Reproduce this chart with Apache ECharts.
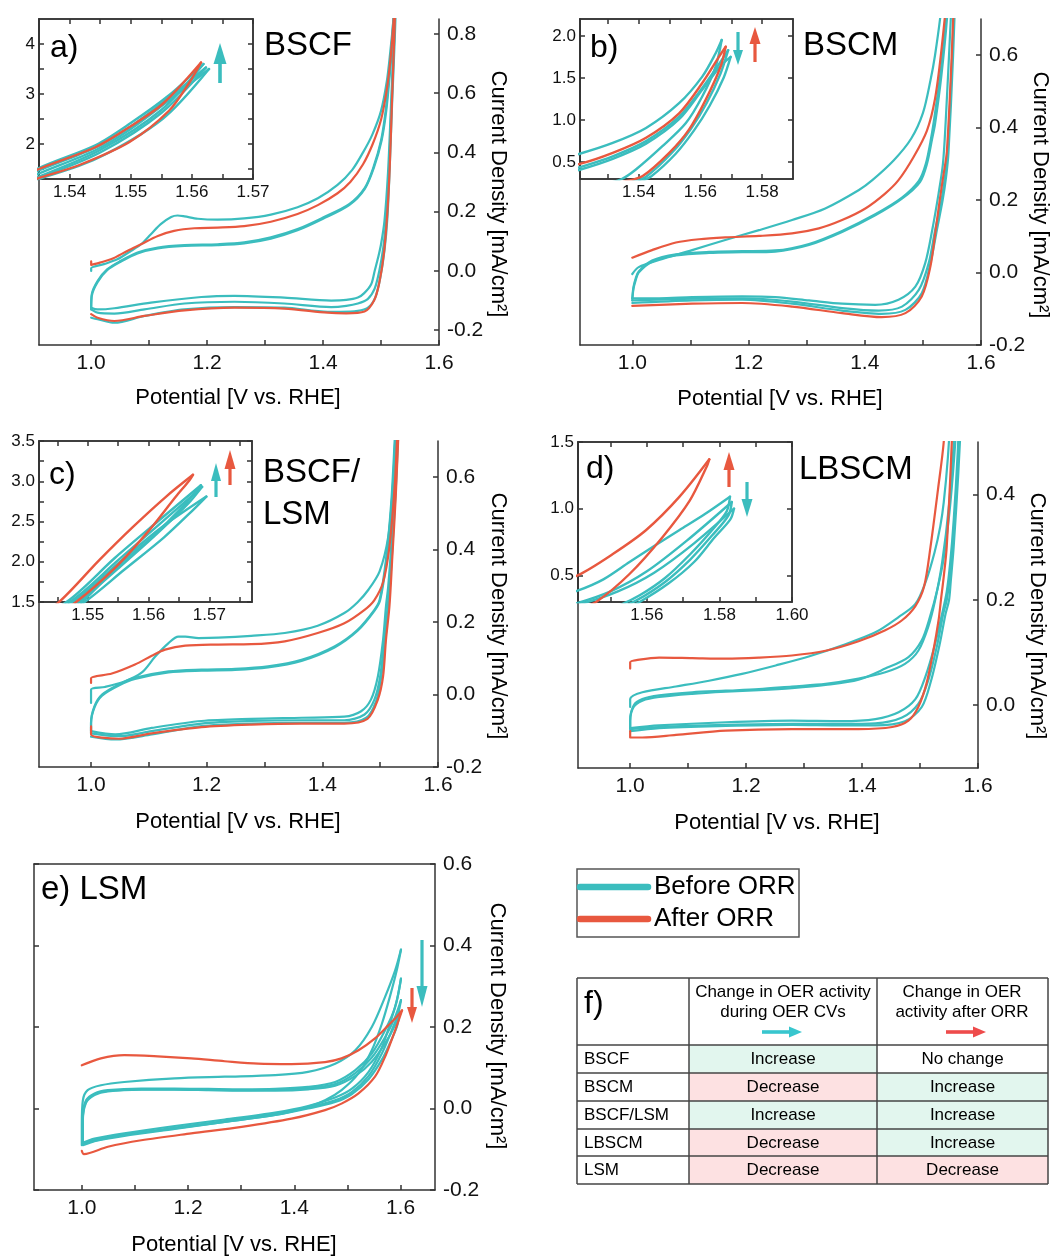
<!DOCTYPE html>
<html><head><meta charset="utf-8">
<script src="https://cdn.jsdelivr.net/npm/echarts@6/dist/echarts.min.js"></script>
<style>html,body{margin:0;padding:0;background:#fff}#c{width:1059px;height:1258px}</style>
</head><body><div id="c"></div>
<script>
const TEAL = '#3BBDBE', RED = '#E8583F';
const FONT = '"Liberation Sans", Arial, Helvetica, sans-serif';
const AX = '#333333';

// ---------- tick / label values ----------
const mainXTicks = [1.0, 1.1, 1.2, 1.3, 1.4, 1.5, 1.6];
const mainXLabels = [1.0, 1.2, 1.4, 1.6];
const aYLabels = [-0.2, 0.0, 0.2, 0.4, 0.6, 0.8];
const bYLabels = [-0.2, 0.0, 0.2, 0.4, 0.6];
const cYLabels = [-0.2, 0.0, 0.2, 0.4, 0.6];
const dYLabels = [0.0, 0.2, 0.4];
const eYLabels = [-0.2, 0.0, 0.2, 0.4, 0.6];
const aInsetXLabels = [1.54, 1.55, 1.56, 1.57];
const aInsetXTicks = [1.54, 1.545, 1.55, 1.555, 1.56, 1.565, 1.57];
const aInsetYLabels = [2, 3, 4];
const aInsetYTicks = [1.5, 2, 2.5, 3, 3.5, 4];
const bInsetXLabels = [1.54, 1.56, 1.58];
const bInsetXTicks = [1.53, 1.54, 1.55, 1.56, 1.57, 1.58];
const bInsetYLabels = [0.5, 1.0, 1.5, 2.0];
const cInsetXLabels = [1.55, 1.56, 1.57];
const cInsetXTicks = [1.545, 1.55, 1.555, 1.56, 1.565, 1.57, 1.575];
const cInsetYLabels = [1.5, 2.0, 2.5, 3.0, 3.5];
const cInsetYTicks = [1.5, 1.75, 2.0, 2.25, 2.5, 2.75, 3.0, 3.25, 3.5];
const dInsetXLabels = [1.56, 1.58, 1.60];
const dInsetXTicks = [1.55, 1.56, 1.57, 1.58, 1.59, 1.60];
const dInsetYLabels = [0.5, 1.0, 1.5];

// ---------- a) BSCF : [potential V vs RHE, current density mA/cm2] ----------
const aTeal1 = [[1.0,0.0],[1.0,0.009],[1.022,0.023],[1.045,0.039],[1.069,0.068],[1.086,0.09],[1.103,0.124],[1.12,0.158],[1.138,0.182],[1.149,0.187],[1.161,0.184],[1.184,0.176],[1.218,0.173],[1.264,0.177],[1.31,0.19],[1.356,0.215],[1.391,0.245],[1.425,0.29],[1.45,0.34],[1.469,0.40],[1.485,0.46],[1.5,0.54],[1.51,0.64],[1.516,0.74],[1.521,0.84],[1.528,1.03],[1.535,1.30],[1.5443,1.7],[1.5552,2.5],[1.5628,3.50],
  [1.556,2.85],[1.55,2.3],[1.5443,1.88],[1.535,1.41],[1.528,1.05],[1.522,0.78],[1.517,0.55],[1.512,0.33],[1.506,0.17],[1.5,0.09],[1.495,0.045],[1.489,0.0],[1.483,-0.045],[1.471,-0.075],[1.46,-0.09],[1.44,-0.098],[1.414,-0.1],[1.333,-0.09],[1.247,-0.084],[1.19,-0.088],[1.103,-0.107],[1.04,-0.126],[1.011,-0.13],[1.0,-0.124]];
const aTeal2 = [[1.0,-0.124],[1.001,-0.079],[1.011,-0.034],[1.028,0.006],[1.051,0.034],[1.08,0.062],[1.115,0.079],[1.161,0.087],[1.218,0.09],[1.264,0.096],[1.31,0.113],[1.356,0.141],[1.40,0.18],[1.445,0.225],[1.472,0.28],[1.487,0.35],[1.50,0.44],[1.508,0.54],[1.514,0.66],[1.519,0.78],[1.526,1.0],[1.535,1.33],[1.545,1.83],[1.555,2.62],[1.5623,3.53],
  [1.556,2.9],[1.55,2.35],[1.5443,1.93],[1.535,1.47],[1.528,1.08],[1.523,0.8],[1.518,0.56],[1.514,0.35],[1.509,0.18],[1.504,0.08],[1.497,0.0],[1.489,-0.06],[1.477,-0.095],[1.46,-0.11],[1.44,-0.118],[1.414,-0.122],[1.333,-0.11],[1.247,-0.104],[1.161,-0.11],[1.092,-0.13],[1.04,-0.144],[1.011,-0.141],[1.0,-0.13]];
const aTeal3 = [[1.0,-0.13],[1.001,-0.085],[1.011,-0.038],[1.028,0.003],[1.051,0.031],[1.08,0.059],[1.115,0.076],[1.161,0.084],[1.218,0.087],[1.264,0.093],[1.31,0.109],[1.356,0.137],[1.40,0.176],[1.445,0.222],[1.472,0.277],[1.488,0.35],[1.501,0.44],[1.509,0.54],[1.515,0.66],[1.52,0.78],[1.527,1.0],[1.535,1.35],[1.545,1.88],[1.555,2.68],[1.5619,3.60],
  [1.556,2.95],[1.55,2.42],[1.5443,1.98],[1.535,1.52],[1.529,1.1],[1.524,0.8],[1.519,0.56],[1.515,0.35],[1.511,0.18],[1.506,0.07],[1.499,-0.02],[1.49,-0.09],[1.477,-0.125],[1.46,-0.135],[1.43,-0.138],[1.408,-0.138],[1.333,-0.124],[1.247,-0.122],[1.161,-0.13],[1.092,-0.152],[1.04,-0.175],[1.011,-0.163],[1.0,-0.158]];
const aRed = [[1.0,0.032],[1.0,0.02],[1.015,0.028],[1.034,0.039],[1.063,0.068],[1.086,0.09],[1.115,0.118],[1.143,0.135],[1.178,0.144],[1.218,0.146],[1.264,0.151],[1.31,0.166],[1.356,0.192],[1.391,0.222],[1.425,0.262],[1.447,0.3],[1.469,0.36],[1.486,0.43],[1.50,0.51],[1.509,0.6],[1.515,0.69],[1.52,0.80],[1.527,1.0],[1.535,1.32],[1.5416,1.58],[1.5498,2.04],[1.5563,2.67],[1.5596,3.23],[1.5615,3.63],
  [1.5552,2.80],[1.5498,2.34],[1.5443,1.94],[1.535,1.50],[1.528,1.1],[1.523,0.80],[1.519,0.58],[1.515,0.35],[1.511,0.2],[1.505,0.06],[1.497,-0.04],[1.488,-0.10],[1.4715,-0.137],[1.44,-0.143],[1.408,-0.141],[1.333,-0.127],[1.247,-0.124],[1.161,-0.133],[1.092,-0.152],[1.04,-0.169],[1.011,-0.158],[1.0,-0.146]];

// ---------- b) BSCM ----------
const bTeal1 = [[1.0,-0.004],[1.011,0.015],[1.046,0.035],[1.103,0.062],[1.16,0.09],[1.218,0.117],[1.275,0.145],[1.332,0.177],[1.39,0.228],[1.413,0.255],[1.45,0.31],[1.48,0.37],[1.5,0.44],[1.513,0.53],[1.5209,0.6],[1.5316,0.728],[1.5424,0.906],[1.5531,1.2],[1.5606,1.516],[1.5649,1.79],[1.5669,1.95],
  [1.5649,1.63],[1.5606,1.28],[1.5553,0.965],[1.5477,0.69],[1.5391,0.413],[1.5345,0.3],[1.527,0.218],[1.516,0.117],[1.504,0.026],[1.487,-0.039],[1.458,-0.075],[1.418,-0.089],[1.361,-0.086],[1.304,-0.077],[1.246,-0.068],[1.189,-0.066],[1.103,-0.068],[1.046,-0.071],[1.0,-0.071]];
const bTeal2 = [[1.0,-0.071],[1.002,-0.04],[1.006,-0.015],[1.011,0.003],[1.034,0.033],[1.075,0.05],[1.132,0.057],[1.189,0.059],[1.246,0.061],[1.304,0.079],[1.361,0.115],[1.418,0.161],[1.464,0.207],[1.493,0.253],[1.505,0.3],[1.514,0.37],[1.5209,0.44],[1.5316,0.57],[1.5424,0.75],[1.5531,1.04],[1.5606,1.38],[1.5665,1.69],[1.569,1.83],
  [1.5665,1.55],[1.562,1.2],[1.557,0.9],[1.551,0.62],[1.5425,0.33],[1.538,0.265],[1.532,0.2],[1.521,0.117],[1.51,0.026],[1.493,-0.048],[1.464,-0.094],[1.424,-0.105],[1.361,-0.098],[1.275,-0.08],[1.189,-0.071],[1.103,-0.072],[1.0,-0.077]];
const bTeal3 = [[1.0,-0.077],[1.002,-0.045],[1.006,-0.02],[1.011,0.0],[1.034,0.03],[1.075,0.047],[1.132,0.054],[1.189,0.056],[1.246,0.058],[1.304,0.076],[1.361,0.112],[1.418,0.158],[1.464,0.204],[1.495,0.25],[1.507,0.3],[1.516,0.37],[1.5209,0.41],[1.5316,0.54],[1.5424,0.72],[1.5531,1.01],[1.5606,1.36],[1.5665,1.64],[1.5698,1.75],
  [1.5675,1.5],[1.563,1.17],[1.558,0.88],[1.552,0.6],[1.544,0.33],[1.54,0.265],[1.534,0.2],[1.524,0.117],[1.513,0.026],[1.498,-0.057],[1.47,-0.103],[1.429,-0.114],[1.361,-0.105],[1.275,-0.086],[1.189,-0.075],[1.103,-0.077],[1.0,-0.084]];
const bRed = [[1.0,0.041],[1.034,0.062],[1.075,0.083],[1.115,0.092],[1.16,0.097],[1.218,0.101],[1.275,0.108],[1.321,0.122],[1.361,0.145],[1.401,0.177],[1.435,0.218],[1.458,0.255],[1.484,0.319],[1.507,0.392],[1.5209,0.48],[1.5316,0.61],[1.5424,0.79],[1.5531,1.08],[1.5606,1.44],[1.566,1.75],[1.5682,1.87],
  [1.5665,1.63],[1.5617,1.24],[1.5563,0.886],[1.5499,0.61],[1.5413,0.335],[1.535,0.265],[1.529,0.2],[1.522,0.117],[1.513,0.017],[1.498,-0.066],[1.47,-0.112],[1.429,-0.123],[1.361,-0.112],[1.275,-0.094],[1.189,-0.084],[1.103,-0.086],[1.0,-0.092]];

// ---------- c) BSCF/LSM ----------
const cTeal1 = [[1.0,-0.023],[1.0,0.014],[1.024,0.021],[1.059,0.037],[1.088,0.061],[1.111,0.105],[1.134,0.142],[1.151,0.16],[1.163,0.16],[1.186,0.156],[1.22,0.157],[1.277,0.162],[1.335,0.17],[1.392,0.19],[1.438,0.225],[1.461,0.255],[1.48,0.29],[1.499,0.34],[1.514,0.436],[1.522,0.573],[1.526,0.699],[1.533,0.93],[1.5475,1.5],[1.555,1.98],[1.562,2.42],[1.5695,2.81],
  [1.567,2.62],[1.5625,2.3],[1.556,1.9],[1.5495,1.5],[1.541,1.1],[1.533,0.82],[1.526,0.6],[1.52,0.43],[1.514,0.3],[1.51,0.243],[1.505,0.151],[1.496,0.05],[1.484,-0.014],[1.467,-0.046],[1.438,-0.061],[1.364,-0.064],[1.277,-0.067],[1.191,-0.073],[1.105,-0.092],[1.042,-0.11],[1.0,-0.101]];
const cTeal2 = [[1.0,-0.101],[1.0,-0.078],[1.006,-0.032],[1.019,0.0],[1.048,0.028],[1.076,0.046],[1.134,0.064],[1.191,0.069],[1.249,0.071],[1.306,0.078],[1.364,0.096],[1.421,0.133],[1.461,0.179],[1.49,0.234],[1.499,0.261],[1.51,0.372],[1.519,0.527],[1.525,0.699],[1.532,0.93],[1.547,1.5],[1.555,2.02],[1.562,2.48],[1.5688,2.93],
  [1.5665,2.72],[1.561,2.32],[1.5555,1.95],[1.5485,1.5],[1.5405,1.12],[1.533,0.83],[1.527,0.6],[1.521,0.43],[1.516,0.3],[1.513,0.243],[1.507,0.151],[1.5,0.05],[1.49,-0.014],[1.473,-0.055],[1.438,-0.071],[1.364,-0.071],[1.277,-0.073],[1.191,-0.08],[1.105,-0.101],[1.048,-0.115],[1.0,-0.107]];
const cTeal3 = [[1.0,-0.107],[1.0,-0.08],[1.006,-0.035],[1.019,-0.003],[1.048,0.025],[1.076,0.043],[1.134,0.061],[1.191,0.066],[1.249,0.068],[1.306,0.075],[1.364,0.093],[1.421,0.13],[1.461,0.176],[1.49,0.231],[1.5,0.261],[1.511,0.372],[1.52,0.527],[1.526,0.699],[1.533,0.93],[1.5465,1.5],[1.5545,2.05],[1.5615,2.5],[1.5686,2.95],
  [1.5663,2.74],[1.5605,2.3],[1.555,1.95],[1.549,1.5],[1.5415,1.12],[1.534,0.83],[1.528,0.6],[1.522,0.43],[1.517,0.3],[1.514,0.243],[1.509,0.151],[1.502,0.05],[1.493,-0.018],[1.476,-0.064],[1.438,-0.078],[1.364,-0.078],[1.277,-0.08],[1.191,-0.087],[1.105,-0.11],[1.042,-0.124],[1.0,-0.116]];
const cRed = [[1.0,0.032],[1.0,0.045],[1.036,0.058],[1.076,0.083],[1.105,0.107],[1.128,0.124],[1.163,0.135],[1.22,0.138],[1.277,0.139],[1.335,0.147],[1.392,0.17],[1.438,0.197],[1.473,0.234],[1.49,0.261],[1.505,0.31],[1.516,0.408],[1.525,0.573],[1.529,0.699],[1.536,0.95],[1.5453,1.5],[1.5519,2.02],[1.5574,2.43],[1.5629,2.81],[1.5673,3.08],
  [1.5667,3.01],[1.5645,2.81],[1.5601,2.39],[1.5547,1.94],[1.5481,1.5],[1.54,1.08],[1.533,0.78],[1.527,0.55],[1.521,0.38],[1.516,0.243],[1.51,0.151],[1.505,0.05],[1.496,-0.014],[1.478,-0.067],[1.438,-0.08],[1.364,-0.08],[1.277,-0.083],[1.191,-0.09],[1.105,-0.107],[1.048,-0.122],[1.0,-0.11],[1.0,-0.088]];

// ---------- d) LBSCM ----------
const dTeal1 = [[1.0,-0.004],[1.0,0.011],[1.021,0.024],[1.079,0.035],[1.136,0.046],[1.193,0.059],[1.251,0.075],[1.308,0.092],[1.365,0.113],[1.423,0.138],[1.463,0.167],[1.492,0.192],[1.51,0.235],[1.525,0.29],[1.535,0.34],[1.5409,0.385],[1.548,0.47],[1.5552,0.6],[1.562,0.72],[1.569,0.84],[1.576,0.96],[1.5829,1.09],
  [1.582,0.98],[1.578,0.84],[1.572,0.66],[1.565,0.48],[1.558,0.35],[1.552,0.27],[1.546,0.215],[1.538,0.173],[1.526,0.116],[1.509,0.053],[1.492,0.011],[1.463,-0.014],[1.423,-0.027],[1.365,-0.031],[1.279,-0.03],[1.165,-0.033],[1.05,-0.039],[1.0,-0.044]];
const dTeal2 = [[1.0,-0.044],[1.0,-0.03],[1.006,-0.001],[1.021,0.011],[1.05,0.018],[1.107,0.024],[1.165,0.027],[1.222,0.03],[1.279,0.035],[1.337,0.04],[1.394,0.05],[1.44,0.062],[1.474,0.078],[1.497,0.103],[1.514,0.148],[1.526,0.199],[1.538,0.27],[1.55,0.38],[1.56,0.53],[1.571,0.76],[1.5834,1.05],
  [1.5825,0.95],[1.578,0.8],[1.572,0.62],[1.565,0.45],[1.557,0.31],[1.551,0.24],[1.546,0.199],[1.54,0.173],[1.53,0.116],[1.514,0.046],[1.497,0.002],[1.469,-0.024],[1.423,-0.035],[1.365,-0.036],[1.279,-0.036],[1.165,-0.038],[1.05,-0.042],[1.0,-0.046]];
const dTeal3 = [[1.0,-0.046],[1.0,-0.03],[1.006,-0.004],[1.021,0.008],[1.05,0.015],[1.107,0.021],[1.165,0.025],[1.222,0.028],[1.279,0.032],[1.337,0.038],[1.394,0.048],[1.44,0.069],[1.48,0.091],[1.503,0.123],[1.517,0.167],[1.53,0.22],[1.541,0.28],[1.552,0.38],[1.562,0.52],[1.573,0.74],[1.584,1.0],
  [1.583,0.92],[1.5785,0.78],[1.573,0.6],[1.566,0.44],[1.558,0.3],[1.553,0.235],[1.55,0.199],[1.544,0.173],[1.534,0.116],[1.519,0.046],[1.503,-0.004],[1.474,-0.031],[1.423,-0.039],[1.365,-0.039],[1.279,-0.038],[1.165,-0.04],[1.05,-0.044],[1.0,-0.05]];
const dRed = [[1.0,0.069],[1.0,0.081],[1.016,0.086],[1.05,0.09],[1.107,0.089],[1.165,0.088],[1.222,0.09],[1.279,0.094],[1.337,0.103],[1.394,0.121],[1.44,0.142],[1.469,0.161],[1.492,0.188],[1.507,0.225],[1.518,0.3],[1.531,0.41],[1.5409,0.5],[1.5506,0.66],[1.5598,0.84],[1.569,1.09],[1.5772,1.37],
  [1.5764,1.31],[1.5718,1.06],[1.5644,0.79],[1.5552,0.51],[1.546,0.3],[1.541,0.245],[1.536,0.199],[1.532,0.161],[1.523,0.103],[1.511,0.04],[1.497,-0.004],[1.48,-0.03],[1.452,-0.042],[1.394,-0.046],[1.279,-0.046],[1.165,-0.049],[1.079,-0.057],[1.021,-0.062],[1.0,-0.062],[1.0,-0.05]];

// ---------- e) LSM ----------
const eTeal1 = [[1.0,-0.09],[1.0,-0.04],[1.002,0.02],[1.011,0.045],[1.036,0.057],[1.08,0.065],[1.175,0.074],[1.269,0.078],[1.364,0.082],[1.426,0.09],[1.477,0.11],[1.515,0.143],[1.546,0.2],[1.571,0.274],[1.59,0.339],[1.601,0.39],
  [1.593,0.339],[1.58,0.274],[1.565,0.208],[1.546,0.143],[1.521,0.086],[1.489,0.045],[1.458,0.02],[1.426,0.004],[1.364,-0.016],[1.269,-0.033],[1.175,-0.049],[1.08,-0.065],[1.024,-0.079],[1.002,-0.086]];
const eTeal2 = [[1.002,-0.086],[1.002,-0.02],[1.008,0.02],[1.024,0.037],[1.049,0.045],[1.112,0.049],[1.175,0.049],[1.238,0.048],[1.301,0.047],[1.364,0.048],[1.426,0.053],[1.477,0.065],[1.515,0.094],[1.546,0.135],[1.571,0.192],[1.59,0.249],[1.601,0.319],
  [1.594,0.27],[1.583,0.22],[1.565,0.15],[1.54,0.09],[1.508,0.048],[1.477,0.027],[1.426,0.006],[1.364,-0.01],[1.269,-0.027],[1.175,-0.043],[1.08,-0.061],[1.024,-0.074],[1.002,-0.084]];
const eTeal3 = [[1.002,-0.084],[1.002,-0.025],[1.008,0.017],[1.024,0.035],[1.049,0.043],[1.112,0.047],[1.175,0.047],[1.238,0.046],[1.301,0.045],[1.364,0.046],[1.426,0.05],[1.477,0.06],[1.515,0.087],[1.546,0.125],[1.571,0.175],[1.59,0.225],[1.601,0.266],
  [1.595,0.23],[1.583,0.19],[1.565,0.135],[1.54,0.08],[1.508,0.04],[1.477,0.02],[1.426,0.002],[1.364,-0.014],[1.269,-0.031],[1.175,-0.047],[1.08,-0.064],[1.024,-0.077],[1.002,-0.088]];
const eTeal4 = [[1.002,-0.088],[1.002,-0.03],[1.008,0.014],[1.024,0.033],[1.049,0.042],[1.112,0.046],[1.175,0.046],[1.238,0.045],[1.301,0.044],[1.364,0.044],[1.426,0.047],[1.477,0.056],[1.515,0.08],[1.546,0.115],[1.571,0.16],[1.59,0.205],[1.599,0.237],
  [1.593,0.2],[1.58,0.16],[1.565,0.12],[1.54,0.072],[1.508,0.035],[1.477,0.016],[1.426,0.0],[1.364,-0.016],[1.269,-0.033],[1.175,-0.05],[1.08,-0.067],[1.024,-0.08],[1.002,-0.09]];
const eRed = [[1.0,0.106],[1.036,0.123],[1.08,0.131],[1.143,0.128],[1.206,0.123],[1.269,0.116],[1.332,0.11],[1.395,0.109],[1.458,0.114],[1.489,0.123],[1.521,0.143],[1.552,0.172],[1.577,0.204],[1.593,0.225],[1.603,0.241],
  [1.59,0.192],[1.571,0.127],[1.552,0.078],[1.521,0.037],[1.489,0.012],[1.458,-0.004],[1.395,-0.025],[1.301,-0.045],[1.206,-0.061],[1.112,-0.078],[1.049,-0.094],[1.004,-0.112],[1.0,-0.104]];

// ---------- table f) ----------
const tableRows = ['BSCF', 'BSCM', 'BSCF/LSM', 'LBSCM', 'LSM'];
const duringCVs = ['Increase', 'Decrease', 'Increase', 'Decrease', 'Decrease'];
const afterORR = ['No change', 'Increase', 'Increase', 'Increase', 'Decrease'];

// ================= build =================
const grids = [], xAxes = [], yAxes = [], series = [], graphic = [];
const fmt = d => v => Number(v).toFixed(d);
const lineSt = {color: AX, width: 1.5};

// split a CV loop at its vertex (max potential) so each sweep is smoothed separately
function sweeps(data) {
  let iv = 0;
  data.forEach((p, i) => { if (p[0] > data[iv][0]) iv = i; });
  return [data.slice(0, iv + 1), data.slice(iv)];
}
function lineSeries(data, color, xi, yi, w) {
  return sweeps(data).map(part => ({type: 'line', data: part, xAxisIndex: xi, yAxisIndex: yi, showSymbol: false, symbol: 'none',
    smooth: 0.3, lineStyle: {color, width: w, cap: 'round', join: 'round'}, itemStyle: {color}, silent: true, clip: true,
    z: color === RED ? 4 : 3, animation: false}));
}
function axisDef(gi, pos, min, max, ticks, labels, dec, fs, margin) {
  return {gridIndex: gi, type: 'value', position: pos, min, max,
    axisLine: {show: true, onZero: false, lineStyle: lineSt},
    axisTick: ticks ? {show: true, inside: true, length: 5, customValues: ticks, lineStyle: lineSt} : {show: false},
    axisLabel: labels ? {show: true, customValues: labels, formatter: fmt(dec), fontSize: fs, color: '#111', fontFamily: FONT, margin} : {show: false},
    splitLine: {show: false}};
}
function addMain(p) {
  const gi = grids.length;
  grids.push({left: p.left, top: p.top, width: p.width, height: p.height, show: false, outerBoundsMode: 'none'});
  const xi = xAxes.length;
  xAxes.push(axisDef(gi, 'bottom', p.xMin, p.xMax, mainXTicks, mainXLabels, 1, 21, 8));
  if (p.topLine) xAxes.push(axisDef(gi, 'top', p.xMin, p.xMax, null, null));
  const yi = yAxes.length;
  yAxes.push(axisDef(gi, 'right', p.yMin, p.yMax, p.yLabels, p.yLabels, 1, 21, 8));
  yAxes.push(axisDef(gi, 'left', p.yMin, p.yMax, p.leftTicks ? p.yLabels : null, null));
  p.curves.forEach(c => series.push(...lineSeries(c[0], c[1], xi, yi, 2.2)));
}
function addInset(p) {
  const gi = grids.length;
  grids.push({left: p.left, top: p.top, width: p.width, height: p.height, show: true, backgroundColor: '#fff',
    borderColor: AX, borderWidth: 1.5, outerBoundsMode: 'none'});
  const xi = xAxes.length;
  xAxes.push(axisDef(gi, 'bottom', p.xMin, p.xMax, p.xTicks, p.xLabels, 2, 17, 5));
  xAxes.push(axisDef(gi, 'top', p.xMin, p.xMax, p.xTicks, null));
  const yi = yAxes.length;
  yAxes.push(axisDef(gi, 'left', p.yMin, p.yMax, p.yTicks, p.yLabels, p.yDec, 17, 4));
  yAxes.push(axisDef(gi, 'right', p.yMin, p.yMax, p.yTicks, null));
  p.curves.forEach(c => series.push(...lineSeries(c[0], c[1], xi, yi, 2.4)));
}

const aCurves = [[aTeal1, TEAL], [aTeal2, TEAL], [aTeal3, TEAL], [aRed, RED]];
const bCurves = [[bTeal1, TEAL], [bTeal2, TEAL], [bTeal3, TEAL], [bRed, RED]];
const cCurves = [[cTeal1, TEAL], [cTeal2, TEAL], [cTeal3, TEAL], [cRed, RED]];
const dCurves = [[dTeal1, TEAL], [dTeal2, TEAL], [dTeal3, TEAL], [dRed, RED]];
const eCurves = [[eTeal1, TEAL], [eTeal2, TEAL], [eTeal3, TEAL], [eTeal4, TEAL], [eRed, RED]];

addMain({left: 39, top: 19, width: 400, height: 326, xMin: 0.91, xMax: 1.6, yMin: -0.25, yMax: 0.85, yLabels: aYLabels, curves: aCurves});
addMain({left: 580, top: 19, width: 401, height: 326, xMin: 0.91, xMax: 1.6, yMin: -0.2, yMax: 0.7, yLabels: bYLabels, curves: bCurves});
addMain({left: 39, top: 441, width: 399, height: 326, xMin: 0.91, xMax: 1.6, yMin: -0.2, yMax: 0.7, yLabels: cYLabels, curves: cCurves});
addMain({left: 578, top: 442, width: 400, height: 326, xMin: 0.91, xMax: 1.6, yMin: -0.12, yMax: 0.5, yLabels: dYLabels, curves: dCurves});
addMain({left: 34, top: 864, width: 401, height: 326, xMin: 0.91, xMax: 1.665, yMin: -0.2, yMax: 0.6, yLabels: eYLabels, curves: eCurves, topLine: true, leftTicks: true});

addInset({left: 39, top: 19, width: 214, height: 160, xMin: 1.535, xMax: 1.57, yMin: 1.3, yMax: 4.5,
  xTicks: aInsetXTicks, xLabels: aInsetXLabels, yTicks: aInsetYTicks, yLabels: aInsetYLabels, yDec: 0, curves: aCurves});
addInset({left: 580, top: 19, width: 213, height: 160, xMin: 1.521, xMax: 1.59, yMin: 0.3, yMax: 2.2,
  xTicks: bInsetXTicks, xLabels: bInsetXLabels, yTicks: bInsetYLabels, yLabels: bInsetYLabels, yDec: 1, curves: bCurves});
addInset({left: 39, top: 441, width: 213, height: 161, xMin: 1.542, xMax: 1.577, yMin: 1.5, yMax: 3.5,
  xTicks: cInsetXTicks, xLabels: cInsetXLabels, yTicks: cInsetYTicks, yLabels: cInsetYLabels, yDec: 1, curves: cCurves});
addInset({left: 578, top: 442, width: 214, height: 160, xMin: 1.541, xMax: 1.60, yMin: 0.3, yMax: 1.5,
  xTicks: dInsetXTicks, xLabels: dInsetXLabels, yTicks: dInsetYLabels, yLabels: dInsetYLabels, yDec: 1, curves: dCurves});

// ---------- annotations ----------
function txt(text, x, y, size, align, rot) {
  return {type: 'text', x, y, rotation: rot || 0, z: 100, silent: true,
    style: {text, fill: '#000', fontSize: size, fontFamily: FONT,
      textAlign: align || 'left', textVerticalAlign: 'middle'}};
}
function vArrow(x, yTail, yTip, color, headLen, headW, shaftW) {
  const dir = yTip < yTail ? -1 : 1;
  const yBase = yTip - dir * headLen;
  return [
    {type: 'rect', z: 100, silent: true, shape: {x: x - shaftW / 2, y: Math.min(yTail, yBase), width: shaftW, height: Math.abs(yBase - yTail)}, style: {fill: color}},
    {type: 'polygon', z: 100, silent: true, shape: {points: [[x, yTip], [x - headW / 2, yBase], [x + headW / 2, yBase]]}, style: {fill: color}}
  ];
}
function hArrow(x1, x2, y, color) {
  const base = x2 - 13;
  return [
    {type: 'rect', z: 100, silent: true, shape: {x: x1, y: y - 1.8, width: base - x1, height: 3.6}, style: {fill: color}},
    {type: 'polygon', z: 100, silent: true, shape: {points: [[x2, y], [base, y - 5.5], [base, y + 5.5]]}, style: {fill: color}}
  ];
}
const xTitle = 'Potential [V vs. RHE]';
const yTitle = 'Current Density [mA/cm²]';
graphic.push(
  txt('a)', 50, 48, 32), txt('BSCF', 264, 46, 33),
  txt('b)', 590, 48, 32), txt('BSCM', 803, 46, 33),
  txt('c)', 49, 475, 32), txt('BSCF/', 263, 473, 33), txt('LSM', 263, 515, 33),
  txt('d)', 586, 469, 32), txt('LBSCM', 799, 470, 33),
  txt('e) LSM', 41, 890, 33),
  txt(xTitle, 238, 398, 22, 'center'), txt(xTitle, 780, 399, 22, 'center'),
  txt(xTitle, 238, 822, 22, 'center'), txt(xTitle, 777, 823, 22, 'center'),
  txt(xTitle, 234, 1245, 22, 'center'),
  txt(yTitle, 498, 194, 22, 'center', -Math.PI / 2), txt(yTitle, 1040, 195, 22, 'center', -Math.PI / 2),
  txt(yTitle, 498, 616, 22, 'center', -Math.PI / 2), txt(yTitle, 1037, 616, 22, 'center', -Math.PI / 2),
  txt(yTitle, 497, 1026, 22, 'center', -Math.PI / 2)
);
graphic.push(...vArrow(220, 83, 43, TEAL, 21, 13, 3.6));
graphic.push(...vArrow(738, 32, 65, TEAL, 15, 10, 3.2), ...vArrow(755, 62, 27, RED, 17, 11, 3.2));
graphic.push(...vArrow(216, 497, 463, TEAL, 18, 10, 3.2), ...vArrow(230, 485, 450, RED, 19, 11, 3.2));
graphic.push(...vArrow(729, 487, 452, RED, 18, 11, 3.2), ...vArrow(747, 482, 517, TEAL, 18, 11, 3.2));
graphic.push(...vArrow(422, 940, 1007, TEAL, 21, 11, 3.2), ...vArrow(412, 988, 1023, RED, 16, 10, 3.2));

// legend
graphic.push(
  {type: 'rect', z: 100, silent: true, shape: {x: 577, y: 869, width: 222, height: 68}, style: {fill: '#fff', stroke: '#555', lineWidth: 1.5}},
  {type: 'line', z: 101, silent: true, shape: {x1: 580, y1: 887, x2: 648, y2: 887}, style: {stroke: TEAL, lineWidth: 6.5, lineCap: 'round'}},
  {type: 'line', z: 101, silent: true, shape: {x1: 580, y1: 919, x2: 648, y2: 919}, style: {stroke: RED, lineWidth: 6.5, lineCap: 'round'}},
  txt('Before ORR', 654, 887, 26), txt('After ORR', 654, 919, 26)
);

// table
const TX = [577, 689, 877, 1048];
const TY = [978, 1045, 1073, 1101, 1129, 1156, 1184];
const cellFill = v => v === 'Increase' ? '#E2F6EE' : (v === 'Decrease' ? '#FDE1E2' : '#fff');
tableRows.forEach((r, i) => {
  const y0 = TY[i + 1], y1 = TY[i + 2], yc = (y0 + y1) / 2;
  graphic.push({type: 'rect', z: 99, silent: true, shape: {x: TX[1], y: y0, width: TX[2] - TX[1], height: y1 - y0}, style: {fill: cellFill(duringCVs[i])}});
  graphic.push({type: 'rect', z: 99, silent: true, shape: {x: TX[2], y: y0, width: TX[3] - TX[2], height: y1 - y0}, style: {fill: cellFill(afterORR[i])}});
  graphic.push(txt(r, 584, yc + 0.5, 17));
  graphic.push(txt(duringCVs[i], (TX[1] + TX[2]) / 2, yc + 0.5, 17, 'center'));
  graphic.push(txt(afterORR[i], (TX[2] + TX[3]) / 2, yc + 0.5, 17, 'center'));
});
TY.forEach(y => graphic.push({type: 'line', z: 101, silent: true, shape: {x1: TX[0], y1: y, x2: TX[3], y2: y}, style: {stroke: '#444', lineWidth: 1.5}}));
TX.forEach(x => graphic.push({type: 'line', z: 101, silent: true, shape: {x1: x, y1: TY[0], x2: x, y2: TY[6]}, style: {stroke: '#444', lineWidth: 1.5}}));
graphic.push(txt('f)', 584, 1004, 32));
graphic.push(txt('Change in OER activity', 783, 992, 17, 'center'), txt('during OER CVs', 783, 1012, 17, 'center'));
graphic.push(txt('Change in OER', 962, 992, 17, 'center'), txt('activity after ORR', 962, 1012, 17, 'center'));
graphic.push(...hArrow(762, 802, 1032, '#38C6CE'), ...hArrow(946, 986, 1032, '#EE4B4B'));

const chart = echarts.init(document.getElementById('c'), null, {renderer: 'canvas'});
chart.setOption({animation: false, backgroundColor: '#fff', grid: grids, xAxis: xAxes, yAxis: yAxes, series, graphic});
</script></body></html>
